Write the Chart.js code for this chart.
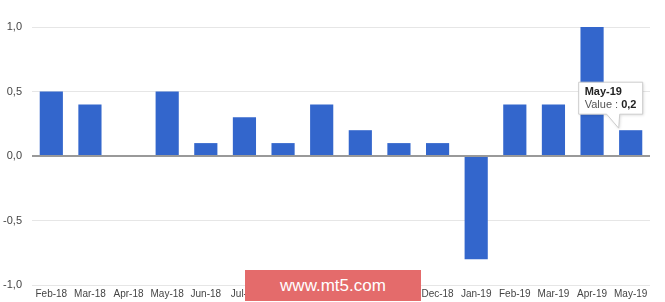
<!DOCTYPE html>
<html>
<head>
<meta charset="utf-8">
<script src="https://cdn.jsdelivr.net/npm/chart.js@4/dist/chart.umd.min.js"></script>
<style>
    html, body { margin: 0; padding: 0; background: #fff; }
    #wrap { position: relative; width: 665px; height: 302px; }
    #watermark {
        position: absolute; left: 245px; top: 270px; width: 176px; height: 31px;
        background: #e46b6b; color: #fff; font-family: "Liberation Sans", Arial, sans-serif;
        font-size: 17px; line-height: 31px; text-align: center;
    }
</style>
</head>
<body>
<div id="wrap">
    <canvas id="chart" width="665" height="302"></canvas>
    <div id="watermark">www.mt5.com</div>
</div>
<script>
let labels = ["Feb-18", "Mar-18", "Apr-18", "May-18", "Jun-18", "Jul-18", "Aug-18", "Sep-18",
    "Oct-18", "Nov-18", "Dec-18", "Jan-19", "Feb-19", "Mar-19", "Apr-19", "May-19"];
let values = [0.5, 0.4, 0, 0.5, 0.1, 0.3, 0.1, 0.4, 0.2, 0.1, 0.1, -0.8, 0.4, 0.4, 1.0, 0.2];
let tooltipIndex = 15;

const fmt = (v) => v.toFixed(1).replace(".", ",");

//draws the google-style tooltip over the chosen bar
const tipPlugin = {
    id: "tip",
    afterDraw(chart) {
        let ctx = chart.ctx;
        let bar = chart.getDatasetMeta(0).data[tooltipIndex];
        let tipX = bar.x - 12, tipY = bar.y - 2;
        let w = 64, h = 32;
        let right = tipX + 24, bottom = tipY - 14;
        let left = right - w, top = bottom - h;
        ctx.save();
        ctx.shadowColor = "rgba(0,0,0,0.15)";
        ctx.shadowBlur = 3;
        ctx.shadowOffsetX = 1;
        ctx.shadowOffsetY = 1;
        ctx.beginPath();
        ctx.moveTo(left, top);
        ctx.lineTo(right, top);
        ctx.lineTo(right, bottom);
        ctx.lineTo(tipX + 1, bottom);
        ctx.lineTo(tipX, tipY);
        ctx.lineTo(tipX - 12, bottom);
        ctx.lineTo(left, bottom);
        ctx.closePath();
        ctx.fillStyle = "#fff";
        ctx.fill();
        ctx.shadowColor = "transparent";
        ctx.strokeStyle = "#cccccc";
        ctx.lineWidth = 1;
        ctx.stroke();
        ctx.textBaseline = "middle";
        ctx.textAlign = "left";
        ctx.fillStyle = "#222";
        ctx.font = "bold 11px 'Liberation Sans', Arial";
        ctx.fillText(labels[tooltipIndex], left + 6, top + 10);
        ctx.font = "11px 'Liberation Sans', Arial";
        ctx.fillStyle = "#555";
        let lbl = "Value : ";
        ctx.fillText(lbl, left + 6, top + 23);
        let lw = ctx.measureText(lbl).width;
        ctx.font = "bold 11px 'Liberation Sans', Arial";
        ctx.fillStyle = "#222";
        ctx.fillText(fmt(values[tooltipIndex]), left + 6 + lw, top + 23);
        ctx.restore();
    }
};

let ctx = document.getElementById("chart").getContext("2d");
new Chart(ctx, {
    type: "bar",
    data: {
        labels: labels,
        datasets: [{
            label: "Value",
            data: values,
            backgroundColor: "#3366cc",
            barPercentage: 0.6,
            categoryPercentage: 1.0,
        }]
    },
    options: {
        responsive: false,
        animation: false,
        layout: { padding: { top: 27, right: 15, left: 0, bottom: 0 } },
        plugins: { legend: { display: false }, tooltip: { enabled: false } },
        scales: {
            x: {
                grid: { display: false, drawTicks: false, tickLength: 0 },
                border: { display: false },
                ticks: {
                    color: "#444",
                    font: { family: "'Liberation Sans', Arial", size: 10 },
                    maxRotation: 0,
                    autoSkip: false,
                    padding: 3,
                },
                afterFit: (s) => { s.height = 17; },
            },
            y: {
                min: -1,
                max: 1,
                grid: {
                    drawTicks: false,
                    color: (c) => c.tick && c.tick.value === 0 ? "#999999" : "#e6e6e6",
                    lineWidth: (c) => c.tick && c.tick.value === 0 ? 2 : 1,
                },
                border: { display: false },
                ticks: {
                    stepSize: 0.5,
                    color: "#444",
                    padding: 10,
                    font: { family: "'Liberation Sans', Arial", size: 11 },
                    callback: (v) => fmt(v),
                },
                afterFit: (s) => { s.width = 32; },
            }
        }
    },
    plugins: [tipPlugin]
});
</script>
</body>
</html>
